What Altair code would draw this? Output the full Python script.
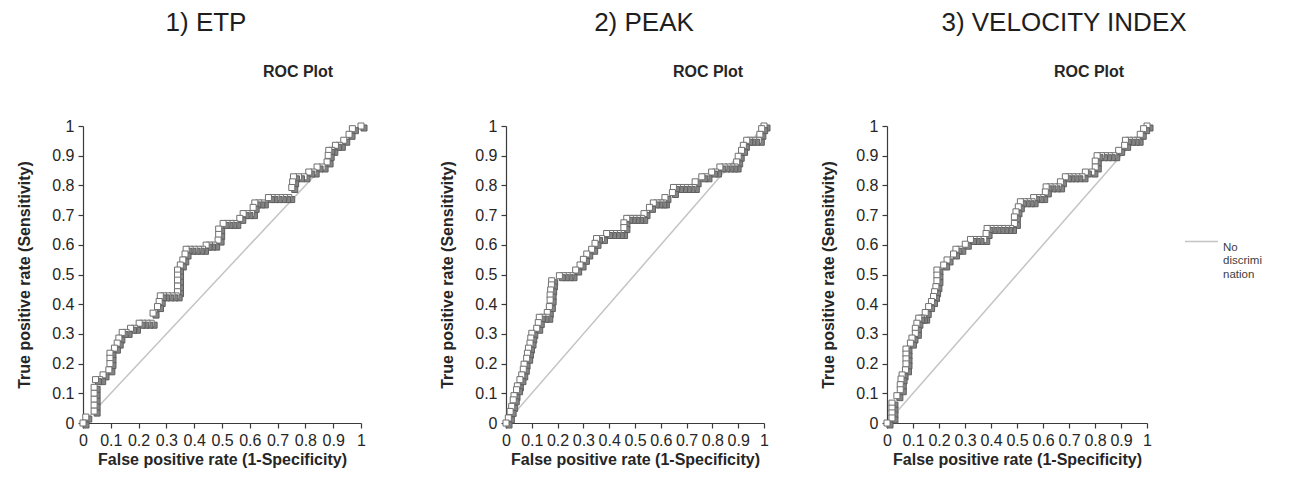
import altair as alt
import pandas as pd

# ---- data ----
titles = ["1) ETP", "2) PEAK", "3) VELOCITY INDEX"]
subtitle = "ROC Plot"
x_title = "False positive rate (1-Specificity)"
y_title = "True positive rate (Sensitivity)"
legend_label = "No discrimination"
ticks = [0, 0.1, 0.2, 0.3, 0.4, 0.5, 0.6, 0.7, 0.8, 0.9, 1]

fpr_etp = [0, 0.01, 0.04, 0.04, 0.04, 0.04, 0.04, 0.045, 0.06, 0.072, 0.093, 0.097, 0.097, 0.097,
           0.113, 0.123, 0.129, 0.141, 0.155, 0.171, 0.185, 0.202, 0.215, 0.23, 0.245, 0.252,
           0.268, 0.274, 0.278, 0.29, 0.305, 0.32, 0.335, 0.34, 0.34, 0.34, 0.34, 0.34, 0.35,
           0.359, 0.367, 0.371, 0.385, 0.4, 0.415, 0.43, 0.443, 0.455, 0.47, 0.486, 0.488, 0.488,
           0.504, 0.518, 0.532, 0.546, 0.564, 0.576, 0.59, 0.606, 0.612, 0.618, 0.632, 0.645,
           0.667, 0.68, 0.695, 0.71, 0.725, 0.74, 0.751, 0.754, 0.757, 0.775, 0.795, 0.812,
           0.828, 0.842, 0.86, 0.878, 0.882, 0.884, 0.895, 0.908, 0.922, 0.938, 0.957, 0.969, 1]
tpr_etp = [0, 0.02, 0.04, 0.06, 0.08, 0.10, 0.12, 0.146, 0.146, 0.162, 0.179, 0.20, 0.218, 0.235,
           0.252, 0.269, 0.286, 0.305, 0.305, 0.319, 0.319, 0.336, 0.336, 0.336, 0.336, 0.37,
           0.392, 0.409, 0.428, 0.428, 0.428, 0.428, 0.428, 0.442, 0.461, 0.481, 0.498, 0.515, 0.532,
           0.549, 0.569, 0.585, 0.585, 0.585, 0.585, 0.585, 0.599, 0.599, 0.599, 0.616, 0.635, 0.653,
           0.672, 0.672, 0.672, 0.672, 0.689, 0.705, 0.705, 0.705, 0.726, 0.741, 0.741, 0.741,
           0.759, 0.759, 0.759, 0.759, 0.759, 0.759, 0.793, 0.812, 0.829, 0.829, 0.829, 0.845,
           0.845, 0.862, 0.862, 0.879, 0.901, 0.918, 0.918, 0.935, 0.935, 0.952, 0.972, 0.991, 1]

fpr_peak = [0, 0.009, 0.016, 0.022, 0.028, 0.031, 0.041, 0.044, 0.054, 0.061, 0.067, 0.07, 0.08,
            0.083, 0.087, 0.093, 0.096, 0.1, 0.119, 0.125, 0.129, 0.143, 0.158, 0.16, 0.168, 0.171,
            0.171, 0.173, 0.176, 0.177, 0.207, 0.222, 0.237, 0.252, 0.27, 0.287, 0.3, 0.313, 0.332,
            0.345, 0.351, 0.37, 0.39, 0.405, 0.42, 0.435, 0.448, 0.457, 0.457, 0.468, 0.482, 0.496,
            0.51, 0.526, 0.535, 0.556, 0.571, 0.585, 0.6, 0.61, 0.616, 0.645, 0.649, 0.665, 0.68,
            0.695, 0.71, 0.726, 0.733, 0.759, 0.775, 0.797, 0.812, 0.829, 0.845, 0.86, 0.875, 0.888,
            0.894, 0.9, 0.913, 0.92, 0.933, 0.945, 0.96, 0.978, 0.984, 0.991, 1]
tpr_peak = [0, 0.017, 0.039, 0.056, 0.078, 0.092, 0.112, 0.125, 0.146, 0.162, 0.181, 0.198, 0.218,
            0.235, 0.252, 0.269, 0.286, 0.302, 0.319, 0.338, 0.356, 0.356, 0.356, 0.372, 0.392, 0.414,
            0.431, 0.448, 0.465, 0.479, 0.496, 0.496, 0.496, 0.496, 0.515, 0.532, 0.551, 0.569, 0.585,
            0.605, 0.621, 0.621, 0.638, 0.638, 0.638, 0.638, 0.638, 0.658, 0.674, 0.689, 0.689, 0.689,
            0.689, 0.689, 0.705, 0.726, 0.741, 0.741, 0.741, 0.741, 0.759, 0.776, 0.793, 0.793, 0.793,
            0.793, 0.793, 0.793, 0.812, 0.829, 0.829, 0.845, 0.845, 0.862, 0.862, 0.862, 0.862, 0.862,
            0.879, 0.898, 0.918, 0.935, 0.952, 0.952, 0.952, 0.952, 0.972, 0.991, 1]

fpr_vel = [0, 0.019, 0.019, 0.019, 0.019, 0.038, 0.051, 0.051, 0.054, 0.058, 0.071, 0.073, 0.073,
           0.073, 0.073, 0.09, 0.096, 0.109, 0.109, 0.115, 0.122, 0.132, 0.141, 0.147, 0.16, 0.171,
           0.179, 0.183, 0.188, 0.192, 0.192, 0.192, 0.218, 0.231, 0.256, 0.265, 0.28, 0.301, 0.321,
           0.335, 0.35, 0.372, 0.381, 0.385, 0.4, 0.415, 0.43, 0.445, 0.46, 0.475, 0.49, 0.49, 0.496,
           0.505, 0.513, 0.528, 0.543, 0.558, 0.564, 0.58, 0.595, 0.609, 0.612, 0.627, 0.643, 0.66,
           0.667, 0.686, 0.7, 0.715, 0.73, 0.75, 0.763, 0.788, 0.801, 0.801, 0.808, 0.825, 0.84,
           0.855, 0.872, 0.891, 0.914, 0.917, 0.932, 0.947, 0.962, 0.974, 0.987, 1]
tpr_vel = [0, 0.017, 0.034, 0.05, 0.067, 0.092, 0.112, 0.129, 0.148, 0.162, 0.179, 0.199, 0.216,
           0.232, 0.249, 0.269, 0.286, 0.302, 0.319, 0.336, 0.353, 0.353, 0.353, 0.372, 0.392, 0.409,
           0.426, 0.442, 0.459, 0.479, 0.498, 0.515, 0.532, 0.549, 0.569, 0.585, 0.585, 0.602, 0.618,
           0.618, 0.618, 0.618, 0.638, 0.655, 0.655, 0.655, 0.655, 0.655, 0.655, 0.655, 0.672, 0.694,
           0.711, 0.728, 0.745, 0.745, 0.745, 0.745, 0.759, 0.759, 0.759, 0.778, 0.795, 0.795, 0.795,
           0.795, 0.812, 0.829, 0.829, 0.829, 0.829, 0.829, 0.845, 0.845, 0.862, 0.882, 0.9, 0.9, 0.9,
           0.9, 0.9, 0.918, 0.935, 0.952, 0.952, 0.952, 0.952, 0.972, 0.991, 1]

diag_x = [0, 1]
diag_y = [0, 1]

series = [(fpr_etp, tpr_etp), (fpr_peak, tpr_peak), (fpr_vel, tpr_vel)]

FONT = "Liberation Sans"
TXT = "#262626"

# panel layout (plot widths in px, extra right room, title / subtitle x)
layout = [
    dict(w=278, extra=30, tx=123, sx=215),
    dict(w=258, extra=0, tx=138, sx=202),
    dict(w=260, extra=0, tx=177, sx=202),
]
H = 297


def marker_frame(fpr, tpr):
    rows = []
    n = len(fpr)
    # lower-left points are drawn last; each point = shadow, then white square
    for rank, i in enumerate(reversed(range(n))):
        rows.append(dict(fpr=fpr[i], tpr=tpr[i], part="shadow", z=2 * rank))
        rows.append(dict(fpr=fpr[i], tpr=tpr[i], part="marker", z=2 * rank + 1))
    return pd.DataFrame(rows)


def panel(k):
    fpr, tpr = series[k]
    L = layout[k]
    xs = alt.Scale(domain=[0, 1], range=[0, L["w"]], nice=False)
    ys = alt.Scale(domain=[0, 1], nice=False)
    xax = alt.Axis(values=ticks, format="~g", title=x_title, grid=False, labelOverlap=False,
                   labelFlush=False, titlePadding=3)
    yax = alt.Axis(values=ticks, format="~g", title=y_title, grid=False, titlePadding=19)

    diag_df = pd.DataFrame({"fpr": diag_x, "tpr": diag_y, "name": [legend_label] * 2})
    if k == 2:
        color = alt.Color("name:N", scale=alt.Scale(range=["#c4c4c4"]),
                          legend=alt.Legend(title=None, orient="none", legendX=1101, legendY=98,
                                            symbolType="stroke", symbolSize=1089,
                                            symbolStrokeWidth=1.5, labelOffset=4,
                                            labelExpr="['No', 'discrimi', 'nation']",
                                            labelFontSize=11.5, labelColor="#404040",
                                            labelFont=FONT, labelBaseline="top", padding=0))
    else:
        color = alt.value("#c4c4c4")
    diag = alt.Chart(diag_df).mark_line(strokeWidth=1.5).encode(
        x=alt.X("fpr:Q", scale=xs, axis=xax),
        y=alt.Y("tpr:Q", scale=ys, axis=yax),
        color=color,
    )

    mk = alt.Chart(marker_frame(fpr, tpr)).mark_square(
        size=36, opacity=1, strokeWidth=1,
        xOffset=alt.expr("datum.part === 'shadow' ? 3 : 0"),
        yOffset=alt.expr("datum.part === 'shadow' ? 2 : 0"),
    ).encode(
        x=alt.X("fpr:Q", scale=xs, axis=xax),
        y=alt.Y("tpr:Q", scale=ys, axis=yax),
        fill=alt.Fill("part:N", scale=alt.Scale(domain=["shadow", "marker"],
                                                range=["#858585", "#ffffff"]), legend=None),
        stroke=alt.Stroke("part:N", scale=alt.Scale(domain=["shadow", "marker"],
                                                    range=["#5e5e5e", "#707070"]), legend=None),
        order=alt.Order("z:Q"),
    )

    ttl = alt.Chart(pd.DataFrame({"t": [titles[k]]})).mark_text(
        font=FONT, fontSize=26, color="#1e1e1e", baseline="middle", align="center"
    ).encode(x=alt.value(L["tx"]), y=alt.value(-103), text="t:N")
    sub = alt.Chart(pd.DataFrame({"t": [subtitle]})).mark_text(
        font=FONT, fontSize=16, fontWeight="bold", color="#262626", baseline="middle", align="center"
    ).encode(x=alt.value(L["sx"]), y=alt.value(-54), text="t:N")

    return alt.layer(diag, mk, ttl, sub).resolve_scale(fill="independent", stroke="independent").properties(
        width=L["w"] + L["extra"], height=H
    )


chart = alt.hconcat(panel(0), panel(1), panel(2), spacing=48).properties(
    padding={"left": 8, "right": 5, "top": 2, "bottom": 5}
).configure_axis(
    labelFont=FONT, titleFont=FONT, labelFontSize=16, titleFontSize=16, titleFontWeight="bold",
    labelColor=TXT, titleColor=TXT, domainColor="#3a3a3a", tickColor="#3a3a3a",
    domainWidth=1.2, tickWidth=1.2, tickSize=5, labelPadding=4,
).configure_view(stroke=None)

chart.save("out.html", embed_options={"renderer": "svg", "actions": False})
